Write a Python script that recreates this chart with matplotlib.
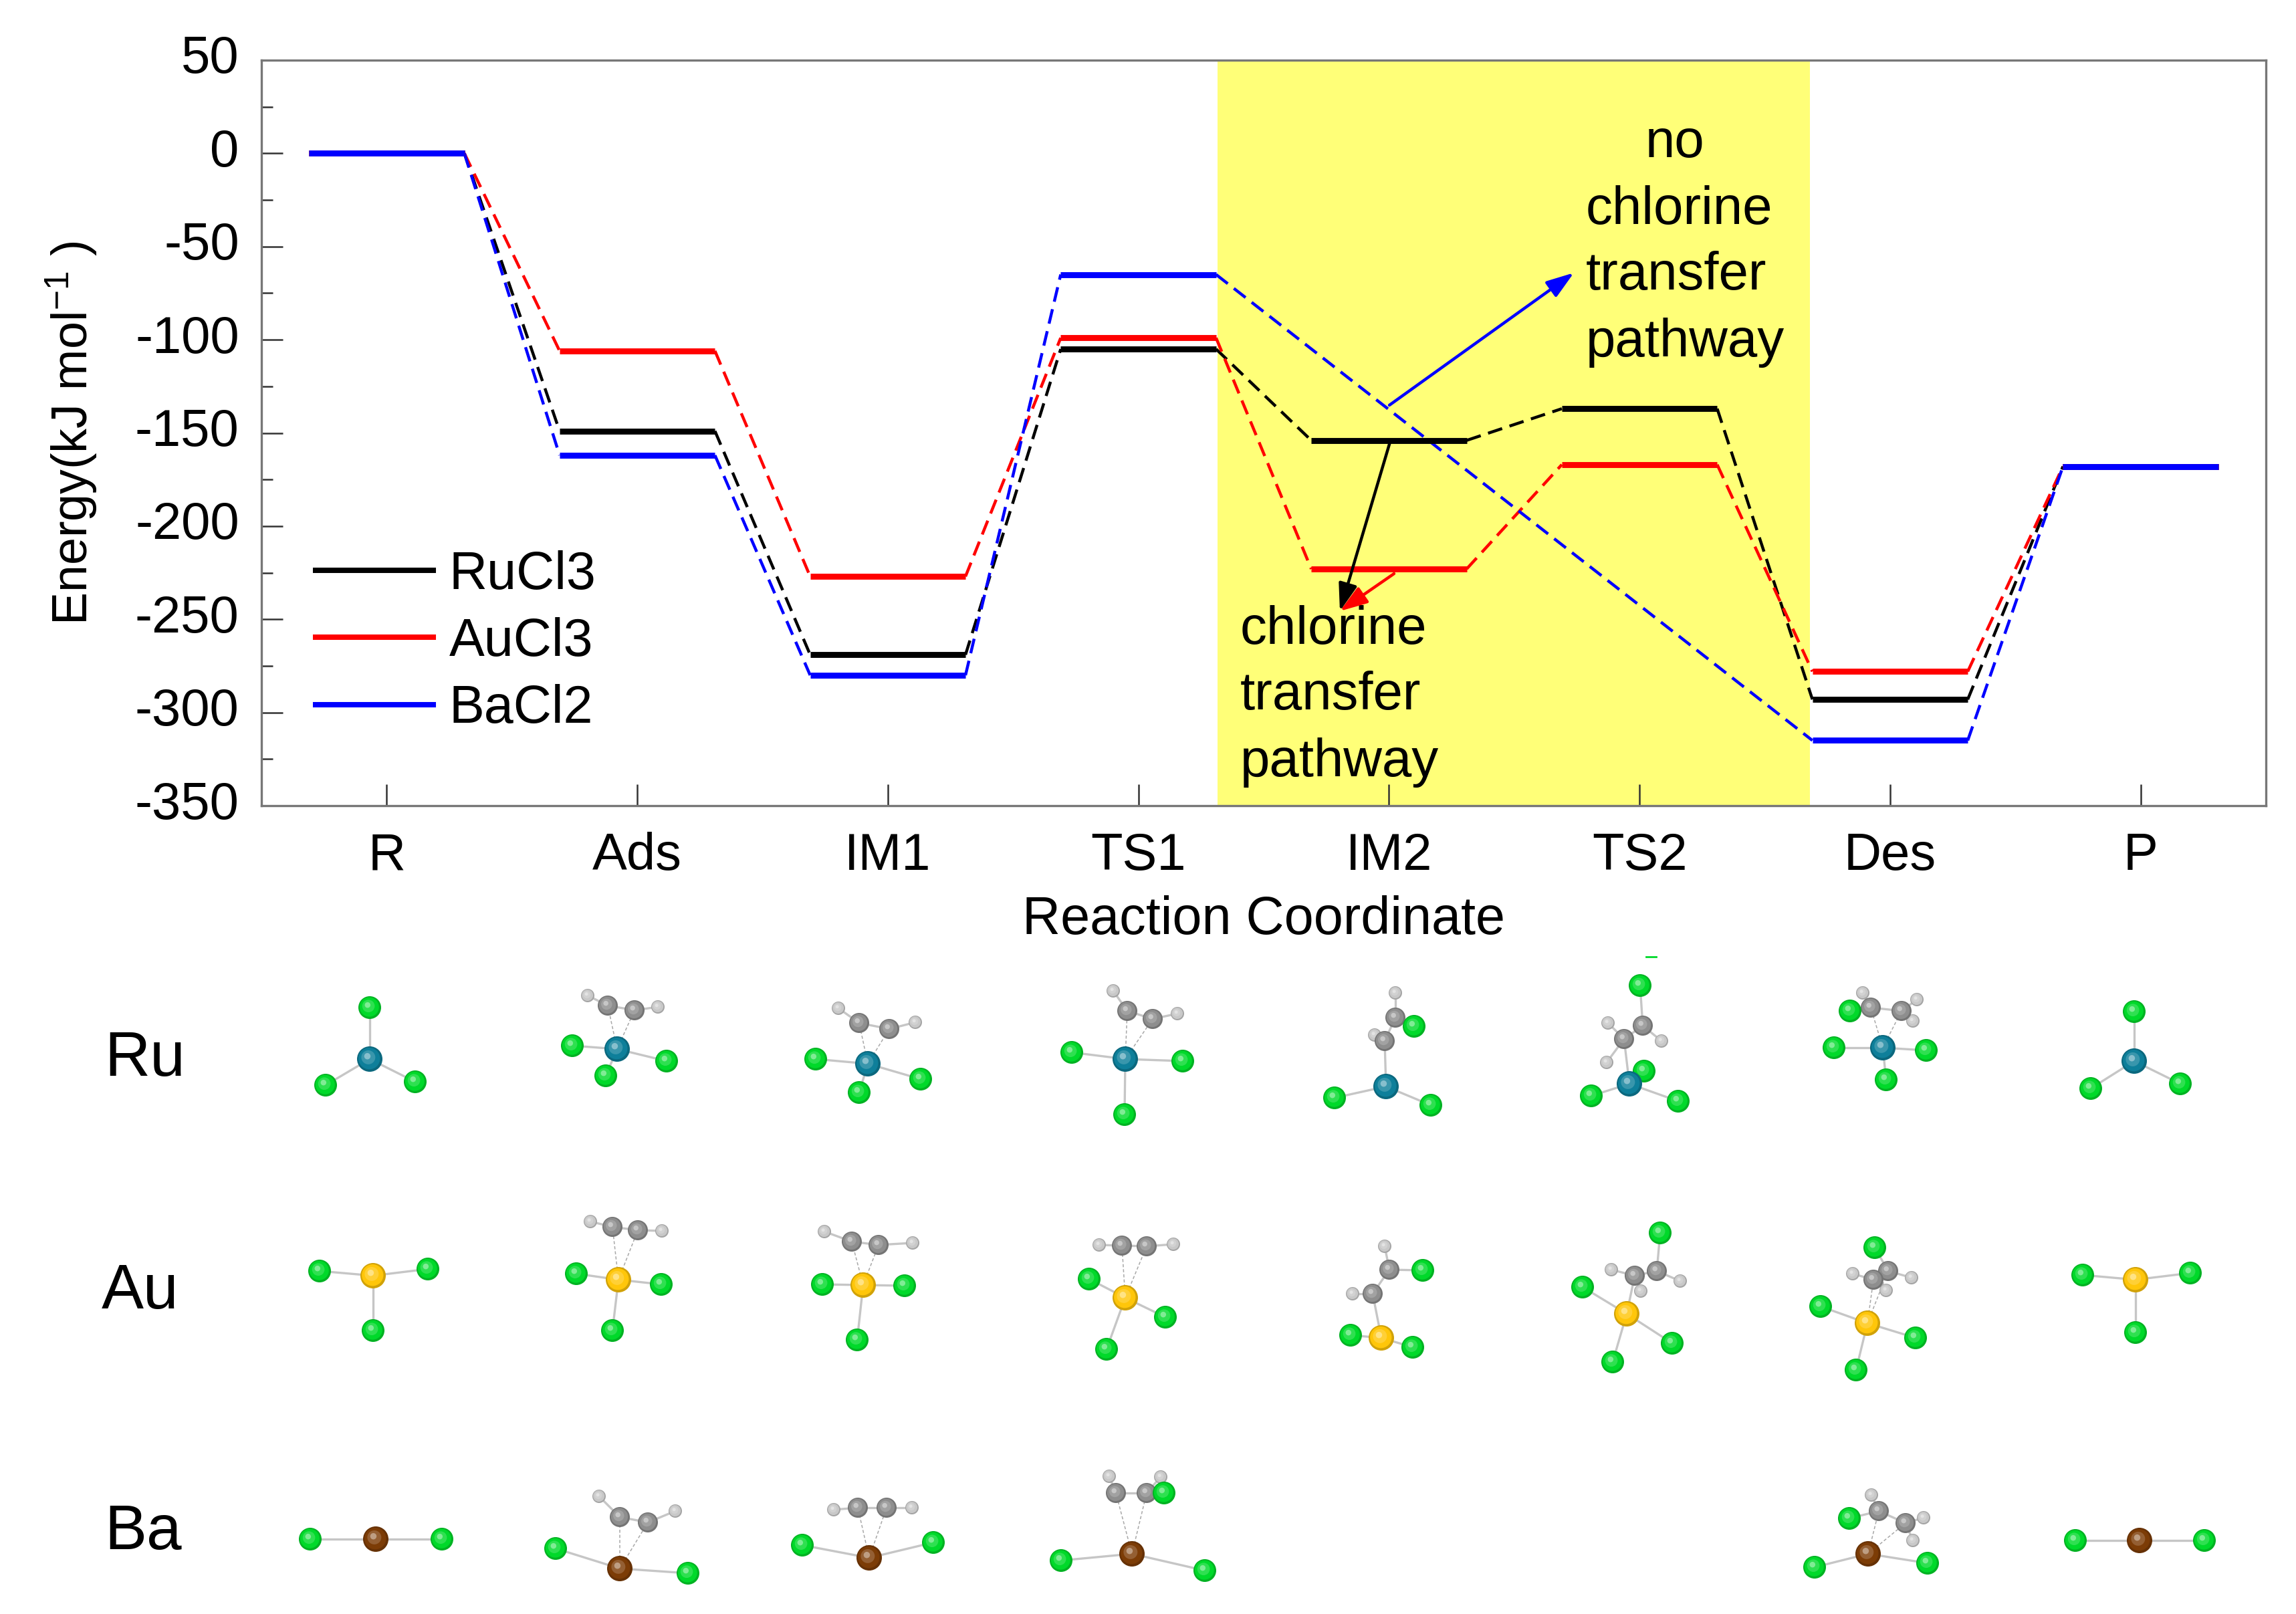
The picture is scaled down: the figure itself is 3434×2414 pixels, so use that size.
import numpy as np
import matplotlib
matplotlib.use('Agg')
import matplotlib.pyplot as plt
from matplotlib.colors import to_rgb
from matplotlib.patches import Circle
from matplotlib.ticker import MultipleLocator
from matplotlib.transforms import ScaledTranslation

plt.rcParams['font.family'] = ['Liberation Sans', 'DejaVu Sans']
plt.rcParams['mathtext.default'] = 'regular'
plt.rcParams['axes.unicode_minus'] = False

W, H = 3434, 2414

states = ['R', 'Ads', 'IM1', 'TS1', 'IM2', 'TS2', 'Des', 'P']
rucl3 = [0, -149, -269, -105, -154, -137, -293, -168]
aucl3 = [0, -106, -227, -99, -223, -167, -278, -168]
bacl2 = [0, -162, -280, -65, np.nan, np.nan, -315, -168]
series_names = ['RuCl3', 'AuCl3', 'BaCl2']
series_colors = ['black', '#ff0000', '#0000ff']
yticks = [50, 0, -50, -100, -150, -200, -250, -300, -350]


def mol(m, cl, c=(), h=(), cl_c=(), link='dash'):
    # atom positions in image pixels, one structure drawing
    return dict(m=m, cl=cl, c=c, h=h, cl_c=cl_c, link=link)


ru_mols = [
    mol((553, 1584), [(553, 1507), (487, 1623), (621, 1618)]),
    mol((923, 1569), [(856, 1564), (997, 1587), (906, 1609)], [(909, 1504), (949, 1511)], [(879, 1489), (984, 1506)]),
    mol((1298, 1591), [(1220, 1584), (1377, 1614), (1285, 1634)], [(1285, 1530), (1330, 1539)], [(1254, 1508), (1369, 1529)]),
    mol((1683, 1584), [(1603, 1574), (1769, 1587), (1682, 1667)], [(1686, 1512), (1724, 1524)], [(1665, 1482), (1761, 1516)]),
    mol((2073, 1625), [(1996, 1642), (2140, 1653)], [(2087, 1522), (2071, 1557)], [(2087, 1485), (2056, 1548)], [(2115, 1535)], 'solid'),
    mol((2437, 1621), [(2380, 1639), (2510, 1647), (2459, 1602)], [(2457, 1534), (2429, 1554)], [(2405, 1530), (2485, 1557), (2403, 1589)], [(2453, 1474)], 'solid'),
    mol((2816, 1567), [(2743, 1567), (2881, 1571), (2821, 1615)], [(2798, 1507), (2844, 1512)], [(2786, 1485), (2867, 1495), (2861, 1527)], [(2767, 1512)]),
    mol((3192, 1587), [(3192, 1513), (3127, 1628), (3261, 1621)]),
]
au_mols = [
    mol((558, 1908), [(478, 1901), (640, 1898), (558, 1990)]),
    mol((925, 1914), [(862, 1905), (989, 1921), (916, 1990)], [(916, 1835), (954, 1840)], [(883, 1827), (990, 1841)]),
    mol((1291, 1922), [(1230, 1921), (1353, 1923), (1282, 2004)], [(1274, 1857), (1314, 1862)], [(1233, 1842), (1365, 1859)]),
    mol((1683, 1941), [(1629, 1913), (1743, 1970), (1655, 2018)], [(1678, 1863), (1715, 1864)], [(1644, 1862), (1755, 1861)]),
    mol((2066, 2001), [(2020, 1997), (2113, 2015)], [(2078, 1899), (2053, 1935)], [(2071, 1864), (2023, 1935)], [(2128, 1900)], 'solid'),
    mol((2433, 1965), [(2367, 1925), (2501, 2009), (2412, 2037)], [(2478, 1901), (2445, 1908)], [(2410, 1899), (2513, 1916), (2454, 1931)], [(2483, 1844)], 'solid'),
    mol((2793, 1979), [(2723, 1954), (2865, 2001), (2776, 2049)], [(2824, 1901), (2802, 1914)], [(2771, 1905), (2859, 1911), (2821, 1930)], [(2804, 1866)]),
    mol((3194, 1914), [(3115, 1907), (3276, 1904), (3194, 1993)]),
]
ba_mols = [
    mol((562, 2302), [(464, 2302), (661, 2302)]),
    mol((927, 2346), [(831, 2316), (1029, 2353)], [(927, 2269), (969, 2277)], [(896, 2238), (1010, 2260)]),
    mol((1300, 2330), [(1200, 2311), (1396, 2307)], [(1283, 2255), (1326, 2255)], [(1247, 2258), (1364, 2255)]),
    mol((1693, 2324), [(1587, 2334), (1802, 2349)], [(1669, 2233), (1715, 2233)], [(1659, 2208), (1736, 2209)], [(1741, 2233)]),
    mol((2794, 2324), [(2714, 2344), (2883, 2338)], [(2810, 2260), (2850, 2278)], [(2799, 2236), (2877, 2270), (2861, 2304)], [(2766, 2271)]),
    mol((3200, 2304), [(3104, 2304), (3297, 2304)]),
]
row_names = ['Ru', 'Au', 'Ba']
row_mols = [ru_mols, au_mols, ba_mols]
metal_colors = ['#0e7f9a', '#ffc60a', '#7c3c06']
cl_color = '#00d92a'
c_color = '#8e8e8e'
h_color = '#c8c8c8'

half = 0.31

fig = plt.figure(figsize=(W / 100, H / 100), dpi=100, facecolor='white')
ax = fig.add_axes([391 / W, 1 - 1205 / H, (3389 - 391) / W, (1205 - 90) / H])
ax.set_xlim(-0.5, 7.5)
ax.set_ylim(-350, 50)
ax.axvspan(3.315, 5.68, color='#ffff78', lw=0, zorder=0)

for vals, name, col in zip([rucl3, aucl3, bacl2], series_names, series_colors):
    idx = [i for i, v in enumerate(vals) if not np.isnan(v)]
    for a, b in zip(idx[:-1], idx[1:]):
        ax.plot([a + half, b - half], [vals[a], vals[b]], color=col, lw=3.2,
                dashes=(5, 2.6), zorder=2)
    for i in idx:
        ax.plot([i - half, i + half], [vals[i], vals[i]], color=col, lw=6.4,
                solid_capstyle='butt', zorder=3)
    ax.plot([], [], color=col, lw=5.8, label=name)

ax.set_xticks(range(len(states)))
ax.set_xticklabels(states)
ax.set_yticks(yticks)
ax.yaxis.set_minor_locator(MultipleLocator(25))
ax.tick_params(axis='x', direction='in', length=23, width=1.8, pad=28, labelsize=56, color='#333333')
ax.tick_params(axis='y', which='major', direction='in', length=23, width=1.8, pad=24, labelsize=56, color='#333333')
ax.tick_params(axis='y', which='minor', direction='in', length=12, width=1.8, color='#333333')
# y tick numbers sit a little above their ticks in the original
for lab in ax.get_yticklabels():
    lab.set_transform(lab.get_transform() + ScaledTranslation(0, 0.09, fig.dpi_scale_trans))
for s in ax.spines.values():
    s.set_linewidth(2.4)
    s.set_color('#777777')
ax.set_xlabel('Reaction Coordinate', fontsize=57, labelpad=16)
ax.set_ylabel('Energy(kJ mol$^{-1}$ )', fontsize=53, labelpad=39)

ax.legend(loc='upper left', bbox_to_anchor=(0.027, 0.343), frameon=False, fontsize=57,
          handlelength=2.22, handletextpad=0.3, labelspacing=0.32, borderpad=0, borderaxespad=0)

# everything below the plot and the callouts sits on one pixel-sized overlay
ov = fig.add_axes([0, 0, 1, 1])
ov.set_xlim(0, W)
ov.set_ylim(H, 0)
ov.axis('off')
ov.patch.set_alpha(0)

for txt, x, y, ha in [('no', 2505, 215, 'center'), ('chlorine', 2372, 314, 'left'),
                      ('transfer', 2372, 413, 'left'), ('pathway', 2372, 513, 'left'),
                      ('chlorine', 1855, 942, 'left'), ('transfer', 1855, 1040, 'left'),
                      ('pathway', 1855, 1140, 'left')]:
    ov.text(x, y, txt, fontsize=57.5, ha=ha, va='center', color='black')

for start, end, col in [((2078, 606), (2354, 408), '#0000ff'),
                        ((2085, 858), (2004, 914), '#ff0000'),
                        ((2079, 661), (2004, 914), 'black')]:
    ov.annotate('', xy=end, xytext=start,
                arrowprops=dict(arrowstyle='-|>,head_length=0.5,head_width=0.17', color=col, lw=3.2,
                                mutation_scale=50, shrinkA=0, shrinkB=0))


def atom(x, y, r, col, z):
    base = np.array(to_rgb(col))
    ov.add_patch(Circle((x, y), r, fc=base * 0.82, ec='none', zorder=z))
    for f, mix in [(0.85, 0.0), (0.55, 0.18), (0.25, 0.5)]:
        ov.add_patch(Circle((x - r * (1 - f) * 0.25, y - r * (1 - f) * 0.3), r * f,
                            fc=base * (1 - mix) + mix, ec='none', zorder=z))


def nearest(p, pts):
    return min(pts, key=lambda q: (p[0] - q[0]) ** 2 + (p[1] - q[1]) ** 2)


def bond(p, q, dashed=False):
    ov.plot([p[0], q[0]], [p[1], q[1]], color='#a8a8a8' if dashed else '#c6c6c6',
            lw=1.1 if dashed else 2.4, ls=(0, (3, 2)) if dashed else '-', zorder=1)


for name, mols, mcol, y, x in zip(row_names, row_mols, metal_colors, [1585, 1932, 2292], [156, 152, 156]):
    ov.text(x, y, name, fontsize=68, ha='left', va='center', color='black')
    for m in mols:
        for p in m['cl']:
            bond(m['m'], p)
        for p in m['h']:
            bond(p, nearest(p, m['c']))
        for p in m['cl_c']:
            bond(p, nearest(p, m['c']))
        if len(m['c']) == 2:
            bond(m['c'][0], m['c'][1])
            if m['link'] == 'dash':
                for p in m['c']:
                    bond(m['m'], p, dashed=True)
            else:
                bond(m['m'], nearest(m['m'], m['c']))
        for p in m['h']:
            atom(p[0], p[1], 10, h_color, 2)
        for p in m['c']:
            atom(p[0], p[1], 15, c_color, 3)
        for p in list(m['cl']) + list(m['cl_c']):
            atom(p[0], p[1], 17, cl_color, 4)
        atom(m['m'][0], m['m'][1], 19, mcol, 5)

# sliver of a cropped atom above the TS2 structure
ov.plot([2462, 2477], [1431, 1431], color=cl_color, lw=2)

fig.savefig('out.png', dpi=100)
